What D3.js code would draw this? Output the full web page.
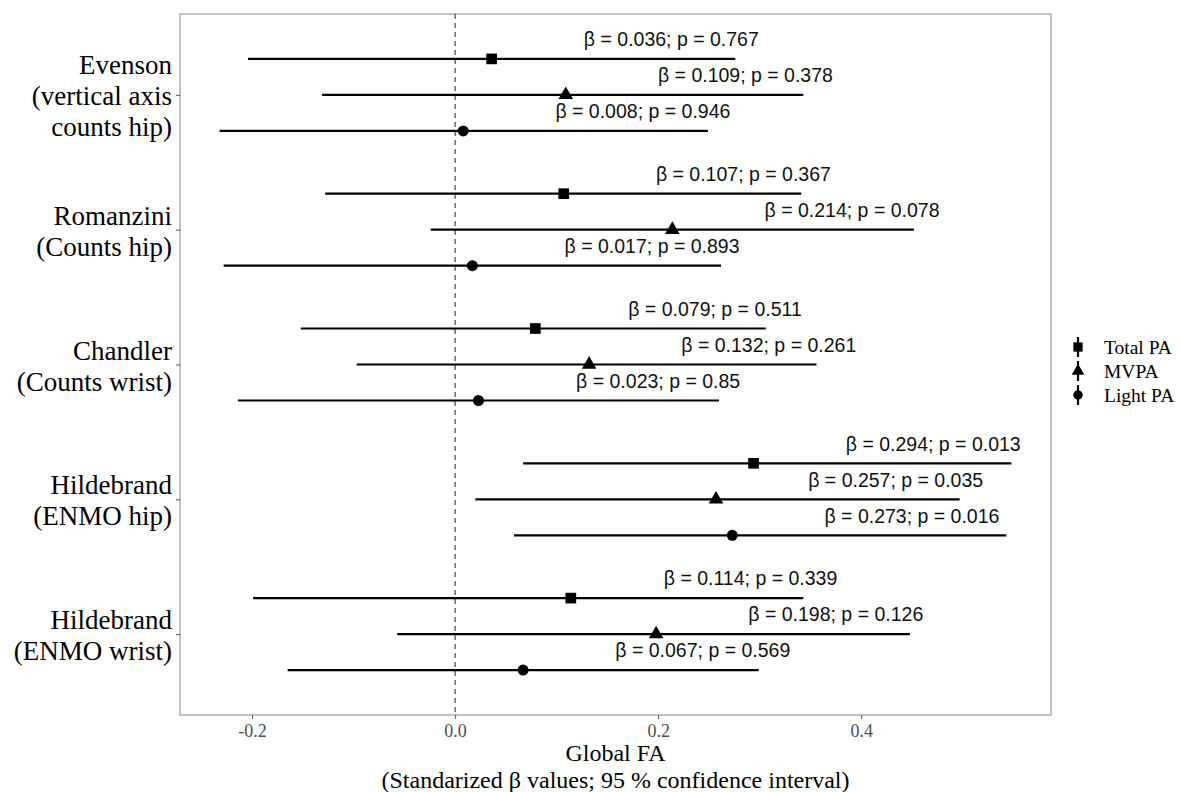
<!DOCTYPE html>
<html lang="en">
<head>
    <meta charset="UTF-8">
    <title>Global FA forest plot</title>
    <script src="https://d3js.org/d3.v7.min.js"></script>
    <style>
        body { margin: 0; background: #fff; }
        svg { display: block; }
    </style>
</head>
<body>
    <svg width="1180" height="792"></svg>
    <script>
        // Data
        const studies = [
            ["Evenson", "(vertical axis", "counts hip)"],
            ["Romanzini", "(Counts hip)"],
            ["Chandler", "(Counts wrist)"],
            ["Hildebrand", "(ENMO hip)"],
            ["Hildebrand", "(ENMO wrist)"]
        ];
        const measures = ["Total PA", "MVPA", "Light PA"];
        const beta = [
            [0.036, 0.109, 0.008],
            [0.107, 0.214, 0.017],
            [0.079, 0.132, 0.023],
            [0.294, 0.257, 0.273],
            [0.114, 0.198, 0.067]
        ];
        const pValues = [
            ["0.767", "0.378", "0.946"],
            ["0.367", "0.078", "0.893"],
            ["0.511", "0.261", "0.85"],
            ["0.013", "0.035", "0.016"],
            ["0.339", "0.126", "0.569"]
        ];
        const ciLow = [
            [-0.204, -0.131, -0.232],
            [-0.128, -0.024, -0.228],
            [-0.152, -0.097, -0.214],
            [0.067, 0.020, 0.058],
            [-0.199, -0.057, -0.165]
        ];
        const ciHigh = [
            [0.276, 0.343, 0.249],
            [0.341, 0.452, 0.262],
            [0.306, 0.356, 0.260],
            [0.548, 0.497, 0.543],
            [0.343, 0.448, 0.299]
        ];
        const xTicks = [-0.2, 0.0, 0.2, 0.4];

        // flat rows
        const rows = [];
        studies.forEach((s, i) => {
            measures.forEach((m, j) => {
                rows.push({ study: i, measure: j, b: beta[i][j], lo: ciLow[i][j], hi: ciHigh[i][j], p: pValues[i][j] });
            });
        });

        const panel = { left: 180, right: 1051, top: 14, bottom: 715 };
        const svg = d3.select("svg");

        // ggplot-like 5% expansion
        const lo = d3.min(rows, d => d.lo), hi = d3.max(rows, d => d.hi);
        const pad = (hi - lo) * 0.05;
        const x = d3.scaleLinear().domain([lo - pad, hi + pad]).range([panel.left, panel.right]);
        const y = d3.scalePoint().domain(d3.range(studies.length)).range([panel.top, panel.bottom]).padding(0.6);
        const dodge = y.step() * 0.267;
        const rowY = d => y(d.study) + (d.measure - 1) * dodge;

        const shapes = [d3.symbolSquare, d3.symbolTriangle, d3.symbolCircle];
        const sizes = [114, 92, 95];

        // panel border
        svg.append("rect")
            .attr("x", panel.left).attr("y", panel.top)
            .attr("width", panel.right - panel.left).attr("height", panel.bottom - panel.top)
            .attr("fill", "none").attr("stroke", "#999").attr("stroke-width", 1.2);

        // zero reference line
        svg.append("line")
            .attr("x1", x(0)).attr("x2", x(0))
            .attr("y1", panel.top).attr("y2", panel.bottom)
            .attr("stroke", "#333").attr("stroke-width", 1.1)
            .attr("stroke-dasharray", "5,4");

        // CI lines
        svg.append("g").selectAll("line")
            .data(rows).join("line")
            .attr("x1", d => x(d.lo)).attr("x2", d => x(d.hi))
            .attr("y1", rowY).attr("y2", rowY)
            .attr("stroke", "#000").attr("stroke-width", 2.2);

        // estimates
        svg.append("g").selectAll("path")
            .data(rows).join("path")
            .attr("transform", d => `translate(${x(d.b)},${rowY(d)})`)
            .attr("d", d => d3.symbol(shapes[d.measure], sizes[d.measure])())
            .attr("fill", "#000");

        // labels
        svg.append("g").selectAll("text")
            .data(rows).join("text")
            .attr("x", d => x(d.b + 0.177))
            .attr("y", d => rowY(d) - 12.7)
            .attr("text-anchor", "middle")
            .attr("font-family", "'Liberation Sans', Arial, sans-serif")
            .attr("font-size", 19.5)
            .attr("fill", "#111")
            .text(d => `β = ${d.b}; p = ${d.p}`);

        // x axis
        svg.append("g")
            .attr("transform", `translate(0,${panel.bottom})`)
            .call(d3.axisBottom(x).tickValues(xTicks).tickSize(4).tickPadding(5).tickFormat(d => d.toFixed(1)))
            .call(g => g.select(".domain").remove())
            .call(g => g.selectAll(".tick line").attr("stroke", "#555"))
            .call(g => g.selectAll(".tick text")
                .attr("font-family", "'Liberation Serif', 'Times New Roman', serif")
                .attr("font-size", 18).attr("fill", "#4d4d4d"));

        // y axis
        svg.append("g")
            .attr("transform", `translate(${panel.left},0)`)
            .call(d3.axisLeft(y).tickSize(4).tickPadding(4).tickFormat(""))
            .call(g => g.select(".domain").remove())
            .call(g => g.selectAll(".tick line").attr("stroke", "#555"))
            .call(g => g.selectAll(".tick text").each(function(d) {
                const lines = studies[d];
                const t = d3.select(this)
                    .attr("font-family", "'Liberation Serif', 'Times New Roman', serif")
                    .attr("font-size", 27).attr("fill", "#000")
                    .attr("dy", null).attr("x", -8).attr("text-anchor", "end");
                lines.forEach((l, k) => {
                    t.append("tspan").attr("x", -8)
                        .attr("y", (k - (lines.length - 1) / 2) * 31 + 10)
                        .text(l);
                });
            }));

        // x axis title
        const cx = (panel.left + panel.right) / 2;
        const title = svg.append("text")
            .attr("text-anchor", "middle")
            .attr("font-family", "'Liberation Serif', 'Times New Roman', serif")
            .attr("font-size", 24).attr("fill", "#000");
        title.append("tspan").attr("x", cx).attr("y", 761).text("Global FA");
        title.append("tspan").attr("x", cx).attr("y", 788).text("(Standarized β values; 95 % confidence interval)");

        // legend
        const legend = svg.append("g").attr("transform", "translate(1078,347)");
        const item = legend.selectAll("g").data(measures).join("g")
            .attr("transform", (d, i) => `translate(0,${i * 24})`);
        item.append("line")
            .attr("y1", -10).attr("y2", 10)
            .attr("stroke", "#000").attr("stroke-width", 2.2);
        item.append("path")
            .attr("d", (d, i) => d3.symbol(shapes[i], sizes[i] * 0.75)())
            .attr("fill", "#000");
        item.append("text")
            .attr("x", 26).attr("dy", "0.35em")
            .attr("font-family", "'Liberation Serif', 'Times New Roman', serif")
            .attr("font-size", 19.5).attr("fill", "#000")
            .text(d => d);
    </script>
</body>
</html>
